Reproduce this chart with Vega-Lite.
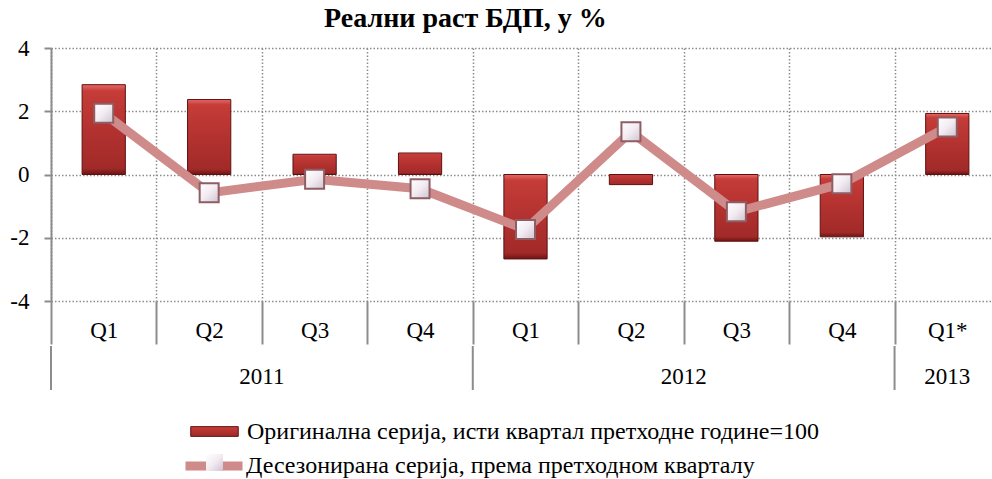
{
  "$schema": "https://vega.github.io/schema/vega-lite/v6.json",
  "padding": {"left": 9, "top": 5, "right": 0, "bottom": 0},
  "background": "white",
  "title": {"text": "Реални раст БДП, у %", "font": "Liberation Serif", "fontSize": 28, "fontWeight": "bold", "color": "#000", "anchor": "middle", "dx": -40, "offset": 4},
  "datasets": {
    "gdp": [
      {"period": "2011 Q1", "orig": 2.84, "deseas": 1.94},
      {"period": "2011 Q2", "orig": 2.37, "deseas": -0.58},
      {"period": "2011 Q3", "orig": 0.64, "deseas": -0.15},
      {"period": "2011 Q4", "orig": 0.68, "deseas": -0.45},
      {"period": "2012 Q1", "orig": -2.67, "deseas": -1.74},
      {"period": "2012 Q2", "orig": -0.32, "deseas": 1.35},
      {"period": "2012 Q3", "orig": -2.11, "deseas": -1.18},
      {"period": "2012 Q4", "orig": -1.97, "deseas": -0.29},
      {"period": "2013 Q1*", "orig": 1.93, "deseas": 1.5}
    ],
    "years": [
      {"year": "2011", "start": 0, "end": 4},
      {"year": "2012", "start": 4, "end": 8},
      {"year": "2013", "start": 8, "end": 9}
    ]
  },
  "spacing": 0,
  "vconcat": [
    {
      "width": 949,
      "height": 253,
      "data": {"name": "gdp"},
      "encoding": {
        "x": {
          "field": "period", "type": "nominal", "sort": null,
          "scale": {"paddingInner": 0, "paddingOuter": 0},
          "axis": {
            "title": null, "labelExpr": "split(datum.value, ' ')[1]", "labelAngle": 0,
            "tickBand": "extent", "tickSize": 43, "tickColor": "#8c8c8c", "tickWidth": 2,
            "labelPadding": -25, "labelFont": "Liberation Serif", "labelFontSize": 23, "labelColor": "#000",
            "domain": false, "grid": true, "gridDash": [1.5, 2], "gridColor": "#8c8c8c", "gridWidth": 1.5
          }
        }
      },
      "layer": [
        {
          "mark": {"type": "rule", "color": "#9a9a9a", "strokeWidth": 2},
          "encoding": {"y": {"datum": 0, "type": "quantitative", "scale": {"domain": [-4, 4], "nice": false}}}
        },
        {
          "mark": {
            "type": "bar", "width": {"band": 0.41}, "strokeWidth": 1,
            "fill": {"gradient": "linear", "x1": 0, "y1": 0, "x2": 0, "y2": 1, "stops": [
              {"offset": 0, "color": "#e86a66"},
              {"offset": 0.07, "color": "#c53c38"},
              {"offset": 0.5, "color": "#b33230"},
              {"offset": 0.93, "color": "#a12a28"},
              {"offset": 1, "color": "#6e1414"}
            ]}
          },
          "encoding": {
            "y": {
              "field": "orig", "type": "quantitative",
              "scale": {"domain": [-4, 4], "nice": false},
              "axis": {
                "title": null, "values": [-4, -2, 0, 2, 4], "labelExpr": "'' + datum.value",
                "domainColor": "#8c8c8c", "domainWidth": 2,
                "tickSize": 7, "tickColor": "#8c8c8c", "tickWidth": 2, "labelPadding": 15,
                "labelFont": "Liberation Serif", "labelFontSize": 23, "labelColor": "#000",
                "grid": true, "gridDash": [1.5, 2], "gridColor": "#8c8c8c", "gridWidth": 1.5
              }
            },
            "stroke": {
              "datum": "Оригинална серија, исти квартал претходне године=100",
              "scale": {"range": ["#5e1010"]},
              "legend": {
                "title": null, "orient": "none", "legendX": 136, "legendY": 356, "direction": "vertical",
                "labelFont": "Liberation Serif", "labelFontSize": 24, "labelColor": "#000", "labelOffset": 5, "labelLimit": 800,
                "symbolType": "M-0.88,-0.18L0.88,-0.18L0.88,0.18L-0.88,0.18Z",
                "symbolSize": 2916, "symbolStrokeWidth": 1, "padding": 0, "zindex": 1
              }
            }
          }
        },
        {
          "mark": {"type": "line", "strokeWidth": 9, "strokeCap": "round"},
          "encoding": {
            "y": {"field": "deseas", "type": "quantitative"},
            "color": {
              "datum": "Десезонирана серија, према претходном кварталу",
              "scale": {"range": ["#cf8a8a"]},
              "legend": {
                "title": null, "orient": "none", "legendX": 130, "legendY": 385, "direction": "vertical",
                "labelFont": "Liberation Serif", "labelFontSize": 24, "labelColor": "#000", "labelOffset": -1, "labelLimit": 800,
                "symbolType": "stroke", "symbolSize": 3249, "symbolStrokeWidth": 9, "padding": 0, "zindex": 1
              }
            }
          }
        },
        {
          "mark": {
            "type": "point", "size": 361, "filled": true, "opacity": 1,
            "stroke": "#8e5e64", "strokeWidth": 2,
            "fill": {"gradient": "linear", "x1": 0, "y1": 0, "x2": 1, "y2": 1, "stops": [
              {"offset": 0, "color": "#ffffff"},
              {"offset": 0.5, "color": "#f2ecf2"},
              {"offset": 1, "color": "#cfc2cf"}
            ]}
          },
          "encoding": {
            "y": {"field": "deseas", "type": "quantitative"},
            "shape": {
              "datum": "marker",
              "scale": {"range": ["square"]},
              "legend": {
                "title": null, "orient": "none", "legendX": 154, "legendY": 405, "direction": "vertical",
                "labelExpr": "''", "labelFontSize": 1, "labelOpacity": 0, "labelOffset": 0,
                "symbolSize": 289, "symbolStrokeWidth": 2, "symbolStrokeColor": "#8e5e64", "symbolOpacity": 1, "padding": 0, "zindex": 2
              }
            }
          }
        }
      ]
    },
    {
      "width": 949,
      "height": 44,
      "data": {"name": "years"},
      "layer": [
        {
          "mark": {"type": "rule", "color": "#8c8c8c", "strokeWidth": 2},
          "encoding": {"x": {"field": "start", "type": "quantitative", "scale": {"domain": [0, 9], "nice": false, "zero": false}, "axis": null}}
        },
        {
          "transform": [{"calculate": "(datum.start + datum.end) / 2", "as": "mid"}],
          "mark": {"type": "text", "font": "Liberation Serif", "fontSize": 23, "color": "#000", "baseline": "middle", "dy": 9},
          "encoding": {
            "x": {"field": "mid", "type": "quantitative", "scale": {"domain": [0, 9], "nice": false, "zero": false}, "axis": null},
            "text": {"field": "year"}
          }
        }
      ]
    }
  ],
  "config": {
    "view": {"stroke": null},
    "font": "Liberation Serif"
  }
}
